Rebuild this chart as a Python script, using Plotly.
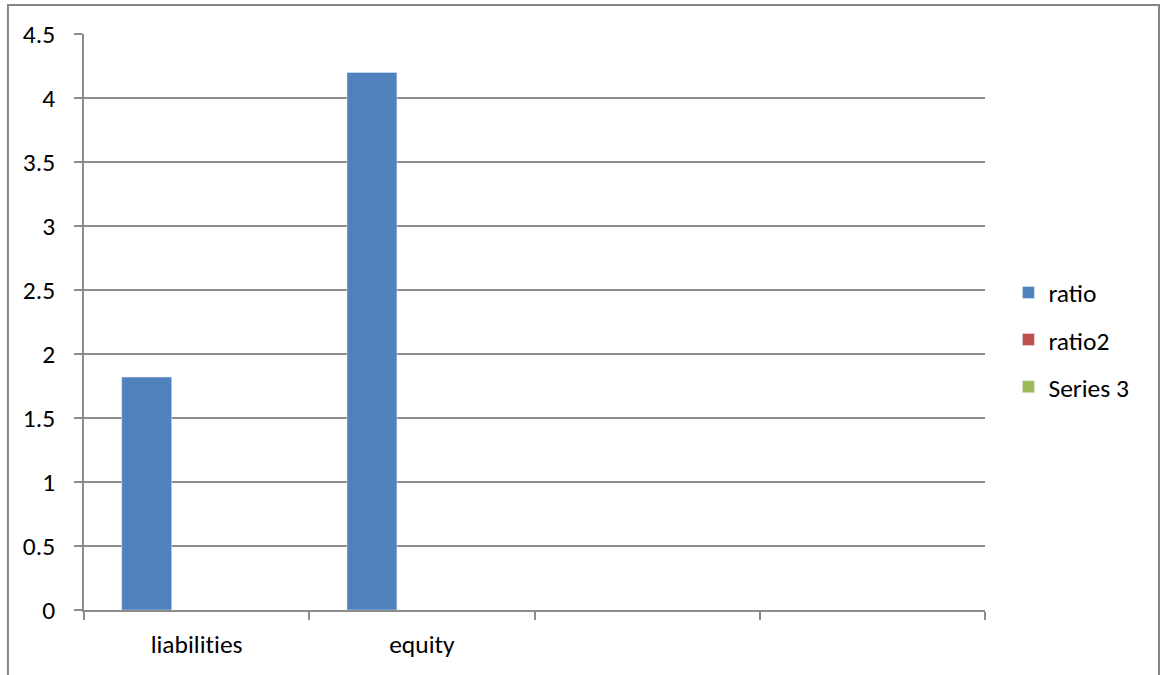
import plotly.graph_objects as go

# Category labels (the two trailing slots are unlabeled)
categories = ["liabilities", "equity", " ", "  "]
ratio = [1.82, 4.2, None, None]
ratio2 = [None, None, None, None]
series3 = [None, None, None, None]

y_ticks = [0, 0.5, 1, 1.5, 2, 2.5, 3, 3.5, 4, 4.5]
y_tick_labels = ["0", "0.5", "1", "1.5", "2", "2.5", "3", "3.5", "4", "4.5"]

FONT = "Carlito, Calibri, 'Open Sans', sans-serif"
GRID = "#8c8c8c"

# keep "t" and "i" as separate glyphs (no ligature) in the axis labels
x_tick_text = [c.replace("ti", "t\u200ci") for c in categories]

fig = go.Figure()
fig.add_trace(go.Bar(name="ratio", x=categories, y=ratio, marker_color="#4f81bd",
                     legendgroup="a"))
fig.add_trace(go.Bar(name="ratio2", x=categories, y=ratio2, marker_color="#c0504d",
                     legendgroup="b"))
fig.add_trace(go.Bar(name="Series 3", x=categories, y=series3, marker_color="#9bbb59",
                     legendgroup="c"))

fig.update_layout(
    width=1162, height=675,
    margin=dict(l=84, r=177, t=34, b=65),
    paper_bgcolor="white", plot_bgcolor="white",
    barmode="group", bargap=0.335, bargroupgap=0,
    font=dict(family=FONT, size=25.5, color="black"),
    legend=dict(x=1.026, y=0.469, xanchor="left", yanchor="middle",
                tracegroupgap=11, font=dict(size=25.5),
                bgcolor="rgba(0,0,0,0)"),
    showlegend=True,
)

fig.update_xaxes(
    type="category", categoryorder="array", categoryarray=categories,
    tickvals=categories, ticktext=x_tick_text,
    showgrid=False, showline=True, linecolor=GRID, linewidth=1.5,
    ticks="outside", tickson="boundaries", ticklen=8, tickcolor=GRID, tickwidth=1.5,
    ticklabelstandoff=11,
)
fig.update_yaxes(
    range=[0, 4.5], tickvals=y_ticks, ticktext=y_tick_labels,
    showgrid=True, gridcolor=GRID, gridwidth=1.5,
    showline=True, linecolor=GRID, linewidth=1.5,
    ticks="outside", ticklen=8, tickcolor=GRID, tickwidth=1.5,
    ticklabelstandoff=14, zeroline=False,
)

# chart-area frame
fig.add_shape(type="rect", xref="paper", yref="paper",
              x0=-0.0844, x1=1.1931, y0=-0.14, y1=1.0503,
              line=dict(color="#868686", width=2), fillcolor="rgba(0,0,0,0)",
              layer="below")

fig.write_html("out.html")
